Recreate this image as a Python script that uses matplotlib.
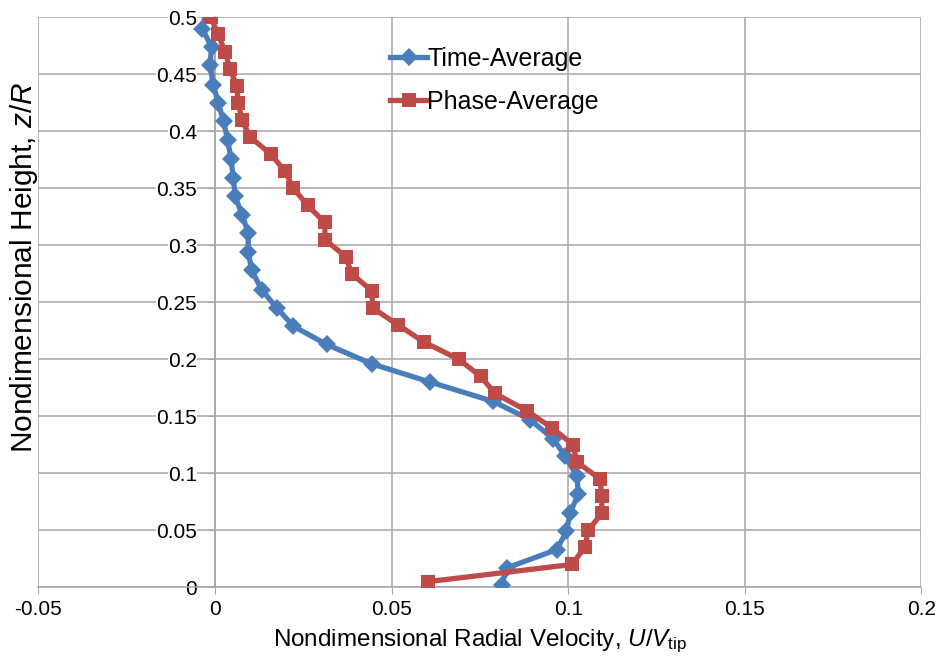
import numpy as np
import matplotlib
matplotlib.use("Agg")
import matplotlib.pyplot as plt

plt.rcParams['font.family'] = ['Liberation Sans', 'DejaVu Sans']
plt.rcParams['mathtext.fontset'] = 'custom'
plt.rcParams['mathtext.rm'] = 'Liberation Sans'
plt.rcParams['mathtext.it'] = 'Liberation Sans:italic'

# time-averaged radial velocity profile
z_time = [0.002, 0.017, 0.033, 0.049, 0.065, 0.082, 0.098, 0.115, 0.130, 0.147,
          0.163, 0.180, 0.196, 0.213, 0.229, 0.245, 0.261, 0.278, 0.294, 0.311,
          0.327, 0.343, 0.359, 0.376, 0.392, 0.409, 0.425, 0.441, 0.458, 0.474,
          0.490, 0.506]
u_time = [0.0812, 0.0826, 0.0967, 0.0995, 0.1005, 0.1029, 0.1024, 0.0991, 0.0958, 0.0892,
          0.0788, 0.0609, 0.0444, 0.0316, 0.0222, 0.0175, 0.0132, 0.0104, 0.0094, 0.0094,
          0.0076, 0.0057, 0.0052, 0.0045, 0.0036, 0.0024, 0.0009, -0.0005, -0.0014, -0.0010,
          -0.0036, -0.0025]

# phase-averaged radial velocity profile
z_phase = [0.005, 0.020, 0.035, 0.050, 0.065, 0.080, 0.095, 0.110, 0.125, 0.140,
           0.155, 0.170, 0.185, 0.200, 0.215, 0.230, 0.245, 0.260, 0.275, 0.290,
           0.305, 0.320, 0.335, 0.350, 0.365, 0.380, 0.395, 0.410, 0.425, 0.440,
           0.455, 0.470, 0.485, 0.500]
u_phase = [0.0604, 0.1010, 0.1047, 0.1057, 0.1095, 0.1095, 0.1090, 0.1024, 0.1014, 0.0953,
           0.0882, 0.0793, 0.0752, 0.0690, 0.0592, 0.0519, 0.0446, 0.0444, 0.0387, 0.0370,
           0.0311, 0.0311, 0.0262, 0.0222, 0.0198, 0.0158, 0.0099, 0.0076, 0.0066, 0.0061,
           0.0042, 0.0028, 0.0009, -0.0012]

xticks = [-0.05, 0, 0.05, 0.1, 0.15, 0.2]
xtick_labels = ['-0.05', '0', '0.05', '0.1', '0.15', '0.2']
yticks = [0, 0.05, 0.1, 0.15, 0.2, 0.25, 0.3, 0.35, 0.4, 0.45, 0.5]
ytick_labels = ['0', '0.05', '0.1', '0.15', '0.2', '0.25', '0.3', '0.35', '0.4', '0.45', '0.5']

blue = '#4A7EBB'
red = '#BE4B48'
grid_c = '#A6A6A6'

fig = plt.figure(figsize=(9.42, 6.63), dpi=100)
ax = fig.add_axes([0.0408, 0.1142, 0.9374, 0.8597])

# vertical axis crosses at x = 0 (set before ticks: this resets them)
ax.spines['left'].set_position(('data', 0))
for s in ['top', 'right']:
    ax.spines[s].set_visible(False)
for s in ['left', 'bottom']:
    ax.spines[s].set_color(grid_c)
    ax.spines[s].set_linewidth(1.1)

ax.plot(u_time, z_time, color=blue, lw=3.8, marker='D', ms=9, mew=0,
        label='Time-Average', zorder=3)
ax.plot(u_phase, z_phase, color=red, lw=3.8, marker='s', ms=9.5, mew=0,
        label='Phase-Average', zorder=4)

ax.set_xlim(-0.05, 0.2)
ax.set_ylim(0, 0.5)
ax.set_xticks(xticks)
ax.set_xticklabels(xtick_labels, fontsize=15)
ax.set_yticks(yticks)
ax.set_yticklabels(ytick_labels, fontsize=15)
for lab in ax.get_yticklabels():
    lab.set_bbox(dict(facecolor='white', edgecolor='none', pad=0))

ax.grid(True, color=grid_c, lw=1.1)
ax.set_axisbelow(True)
ax.tick_params(axis='x', direction='out', length=5, color=grid_c, pad=4)
ax.tick_params(axis='y', direction='out', length=5, color=grid_c, pad=8)

ax.set_xlabel('Nondimensional Radial Velocity, $\\it{U}$/$\\it{V}_{\\rm tip}$',
              fontsize=17.5, labelpad=6)
ax.set_ylabel('Nondimensional Height, $\\it{z}$/$\\it{R}$', fontsize=21.5)
ax.yaxis.set_label_coords(0.002, 0.562)

leg = ax.legend(loc='upper left', bbox_to_anchor=(0.398, 0.948), frameon=False,
                fontsize=18, handlelength=1.5, handletextpad=0.0,
                labelspacing=0.75, borderpad=0, borderaxespad=0)

fig.savefig('out.png', dpi=100)
